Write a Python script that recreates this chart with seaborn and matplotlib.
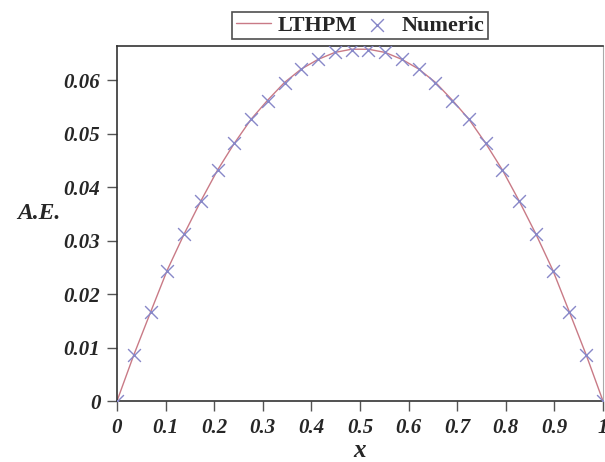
import numpy as np
import pandas as pd
import seaborn as sns
import matplotlib.pyplot as plt
from matplotlib.ticker import FuncFormatter

# data
x_vals = [i / 29 for i in range(30)]
ae_lthpm = [0.0, 0.0086, 0.0166, 0.0245, 0.0312, 0.0374, 0.0432, 0.0482, 0.0527, 0.0563,
            0.0596, 0.0621, 0.0639, 0.0652, 0.0658, 0.0658, 0.0652, 0.0639, 0.0621, 0.0596,
            0.0563, 0.0527, 0.0482, 0.0432, 0.0374, 0.0312, 0.0245, 0.0166, 0.0086, 0.0]
ae_numeric = [0.0, 0.0086, 0.0166, 0.0244, 0.0312, 0.0375, 0.0432, 0.0482, 0.0527, 0.0562,
              0.0595, 0.0621, 0.0640, 0.0652, 0.0657, 0.0657, 0.0652, 0.0640, 0.0621, 0.0595,
              0.0562, 0.0527, 0.0482, 0.0432, 0.0375, 0.0312, 0.0244, 0.0166, 0.0086, 0.0]
x_ticks = [0, 0.1, 0.2, 0.3, 0.4, 0.5, 0.6, 0.7, 0.8, 0.9, 1]
y_ticks = [0, 0.01, 0.02, 0.03, 0.04, 0.05, 0.06]

df = pd.DataFrame({"x": x_vals, "LTHPM": ae_lthpm, "Numeric": ae_numeric})

sns.set_style("ticks")
plt.rcParams['font.family'] = ['Liberation Serif', 'DejaVu Serif']

fig = plt.figure(figsize=(6.05, 4.62), dpi=100)
ax = fig.add_axes([0.1934, 0.132, 0.8033, 0.7684])

sns.lineplot(data=df, x="x", y="LTHPM", ax=ax, color="#c97a86", linewidth=1.0,
             label="LTHPM")
sns.scatterplot(data=df, x="x", y="Numeric", ax=ax, marker="x", s=85, color="#8888c8",
                linewidth=1.0, label="Numeric", zorder=3)

ax.set_xlim(0, 1)
ax.set_ylim(0, 0.0664)
ax.set_xticks(x_ticks)
ax.set_yticks(y_ticks)
ax.xaxis.set_major_formatter(FuncFormatter(lambda v, p: "0" if v == 0 else ("1" if v == 1 else f"{v:.1f}")))
ax.yaxis.set_major_formatter(FuncFormatter(lambda v, p: "0" if v == 0 else f"{v:.2f}"))

for lab in ax.get_xticklabels() + ax.get_yticklabels():
    lab.set_fontsize(15)
    lab.set_fontweight("bold")
    lab.set_fontstyle("italic")
ax.tick_params(direction="out", length=7, width=1, color="#555555", pad=5)

for s in ["left", "bottom", "top"]:
    ax.spines[s].set_color("#333333")
    ax.spines[s].set_linewidth(1.2)
ax.spines["right"].set_color("#aaaaaa")
ax.spines["right"].set_linewidth(0.8)

ax.set_xlabel("x", fontsize=18, fontweight="bold", fontstyle="italic", labelpad=1)
ax.set_ylabel("A.E.", fontsize=17, fontweight="bold", fontstyle="italic", rotation=0,
              labelpad=0)
ax.yaxis.set_label_coords(-0.16, 0.5)

leg = ax.legend(loc="lower center", bbox_to_anchor=(0.5, 1.0), ncol=2, frameon=True,
                fancybox=False, edgecolor="#222222", borderpad=0.15, handlelength=1.6,
                columnspacing=0.1, handletextpad=0.3, borderaxespad=0.3,
                prop=dict(family="Liberation Serif", weight="bold", size=16))
leg.get_frame().set_linewidth(1.2)

fig.savefig("out.png", dpi=100)
